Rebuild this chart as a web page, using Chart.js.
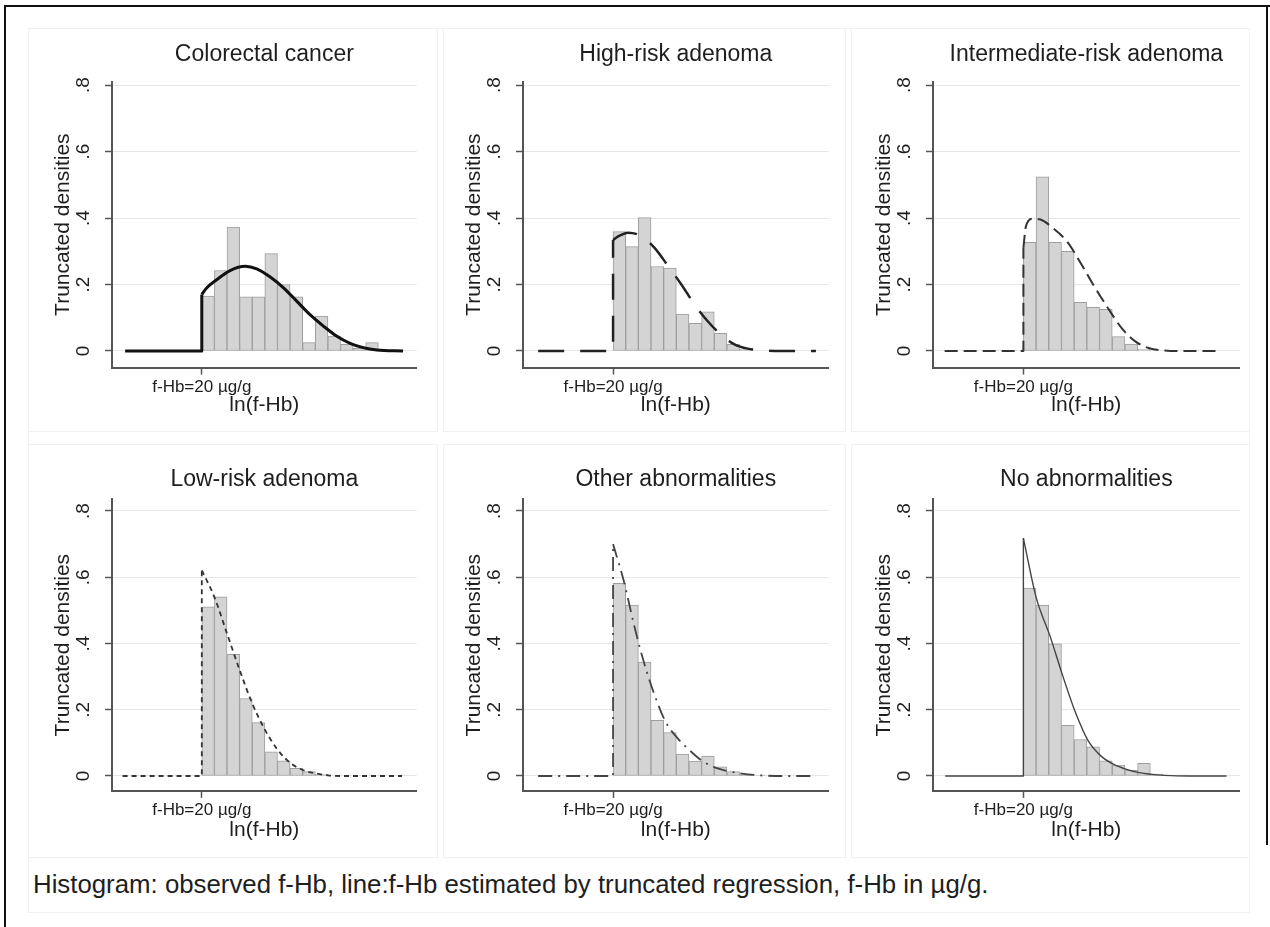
<!DOCTYPE html>
<html>
<head>
<meta charset="utf-8">
<script src="https://cdn.jsdelivr.net/npm/chart.js@4.4.1/dist/chart.umd.min.js"></script>
<style>
  html, body { margin: 0; padding: 0; background: #fff; }
  body { width: 1270px; height: 927px; position: relative; overflow: hidden;
         font-family: 'Liberation Sans', Arial, sans-serif; }
  .line { position: absolute; background: #111; }
  .frame { position: absolute; border: 1px solid #f1f1f1; box-sizing: border-box; }
  canvas { position: absolute; }
  #caption { position: absolute; left: 33px; top: 869px; font-size: 25.8px; line-height: 30px;
             color: #1e1e1e; white-space: nowrap; }
</style>
</head>
<body>
<div class="line" style="left:4px;top:5px;width:2px;height:922px"></div>
<div class="line" style="left:4px;top:5px;width:1266px;height:2px"></div>
<div class="line" style="left:1266px;top:5px;width:2px;height:840px"></div>
<div class="frame" style="left:28px;top:28px;width:1222px;height:885px"></div>
<div class="frame" style="left:28px;top:28px;width:410px;height:404px"></div>
<div class="frame" style="left:443px;top:28px;width:403px;height:404px"></div>
<div class="frame" style="left:851px;top:28px;width:399px;height:404px"></div>
<div class="frame" style="left:28px;top:444px;width:410px;height:414px"></div>
<div class="frame" style="left:443px;top:444px;width:403px;height:414px"></div>
<div class="frame" style="left:851px;top:444px;width:399px;height:414px"></div>
<div id="caption">Histogram: observed f-Hb, line:f-Hb estimated by truncated regression, f-Hb in µg/g.</div>

<script>
// bins of ln(f-Hb), width 0.25, starting at the truncation point ln(20)
const binCenters = [3.125, 3.375, 3.625, 3.875, 4.125, 4.375, 4.625, 4.875, 5.125, 5.375, 5.625, 5.875, 6.125, 6.375];
const thresholdX = 3.0;
const xTickLabel = 'f-Hb=20 µg/g';
const yTicks = [0, 0.2, 0.4, 0.6, 0.8];
const yTickLabels = ['0', '.2', '.4', '.6', '.8'];

const crcTitle = 'Colorectal cancer';
const crcBars = [0.165, 0.242, 0.373, 0.163, 0.163, 0.293, 0.2, 0.163, 0.025, 0.105, 0.045, 0.02, 0.008, 0.025];
const crcCurveX = [1.48, 3.0, 3.0, 3.10, 3.30, 3.56, 3.86, 4.09, 4.35, 4.62, 4.88, 5.14, 5.41, 5.67, 5.94, 6.20, 6.47, 6.99];
const crcCurveY = [0, 0, 0.17, 0.19, 0.215, 0.242, 0.255, 0.247, 0.223, 0.19, 0.15, 0.11, 0.075, 0.045, 0.023, 0.01, 0.003, 0];

const hraTitle = 'High-risk adenoma';
const hraBars = [0.359, 0.314, 0.401, 0.254, 0.249, 0.111, 0.083, 0.118, 0.053, 0.02, 0.005];
const hraCurveX = [1.52, 3.0, 3.0, 3.10, 3.30, 3.56, 3.82, 4.09, 4.35, 4.61, 4.88, 5.14, 5.40, 5.66, 5.93, 6.19, 7.01];
const hraCurveY = [0, 0, 0.334, 0.345, 0.356, 0.345, 0.31, 0.255, 0.2, 0.14, 0.088, 0.048, 0.02, 0.007, 0.002, 0, 0];

const iraTitle = 'Intermediate-risk adenoma';
const iraBars = [0.327, 0.524, 0.327, 0.30, 0.146, 0.131, 0.125, 0.043, 0.021, 0.005];
const iraCurveX = [1.45, 3.0, 3.0, 3.05, 3.18, 3.32, 3.59, 3.86, 4.13, 4.40, 4.67, 4.94, 5.21, 5.48, 5.75, 6.02, 6.90];
const iraCurveY = [0, 0, 0.31, 0.375, 0.398, 0.396, 0.369, 0.329, 0.264, 0.193, 0.128, 0.068, 0.028, 0.008, 0.002, 0, 0];

const lraTitle = 'Low-risk adenoma';
const lraBars = [0.511, 0.541, 0.367, 0.234, 0.161, 0.073, 0.046, 0.023, 0.013, 0.005];
const lraCurveX = [1.43, 3.0, 3.0, 3.25, 3.50, 3.75, 4.0, 4.25, 4.5, 4.75, 5.0, 5.25, 5.5, 5.77, 6.97];
const lraCurveY = [0, 0, 0.621, 0.54, 0.43, 0.32, 0.219, 0.14, 0.08, 0.04, 0.018, 0.008, 0.002, 0, 0];

const othTitle = 'Other abnormalities';
const othBars = [0.582, 0.516, 0.344, 0.168, 0.131, 0.066, 0.045, 0.060, 0.028, 0.013, 0.006, 0.003];
const othCurveX = [1.52, 3.0, 3.0, 3.21, 3.41, 3.58, 3.81, 4.04, 4.27, 4.51, 4.74, 4.97, 5.20, 5.43, 5.90, 6.49, 6.99];
const othCurveY = [0, 0, 0.70, 0.59, 0.459, 0.359, 0.249, 0.163, 0.115, 0.078, 0.048, 0.028, 0.017, 0.01, 0.002, 0, 0];

const nonTitle = 'No abnormalities';
const nonBars = [0.567, 0.516, 0.399, 0.153, 0.11, 0.088, 0.046, 0.033, 0.018, 0.038, 0.006, 0.002, 0.003];
const nonCurveX = [1.46, 3.0, 3.0, 3.25, 3.53, 3.78, 4.03, 4.28, 4.53, 4.78, 5.03, 5.28, 5.53, 5.78, 6.25, 7.0];
const nonCurveY = [0, 0, 0.718, 0.54, 0.42, 0.30, 0.19, 0.105, 0.06, 0.035, 0.02, 0.01, 0.005, 0.002, 0, 0];

const panels = [
  { title: crcTitle, bars: crcBars, cx: crcCurveX, cy: crcCurveY },
  { title: hraTitle, bars: hraBars, cx: hraCurveX, cy: hraCurveY },
  { title: iraTitle, bars: iraBars, cx: iraCurveX, cy: iraCurveY },
  { title: lraTitle, bars: lraBars, cx: lraCurveX, cy: lraCurveY },
  { title: othTitle, bars: othBars, cx: othCurveX, cy: othCurveY },
  { title: nonTitle, bars: nonBars, cx: nonCurveX, cy: nonCurveY },
];

const lineStyles = [
  { color: '#111', width: 3, dash: [] },
  { color: '#222', width: 2.5, dash: [26, 16] },
  { color: '#333', width: 2, dash: [13, 6] },
  { color: '#333', width: 1.8, dash: [5, 4] },
  { color: '#444', width: 1.8, dash: [14, 6, 2, 6] },
  { color: '#444', width: 1.4, dash: [] },
];

// layout of the 3x2 grid (page pixels)
const cols = [{ axis: 112, right: 416.7 }, { axis: 522.7, right: 828.3 }, { axis: 933.3, right: 1240 }];
const rows = [
  { titleY: 55, top: 81.7, bottom: 367.6, tickY: 387, xTitleY: 405, yMin: -0.05, yMax: 0.81 },
  { titleY: 480, top: 499.4, bottom: 790.9, tickY: 810, xTitleY: 830, yMin: -0.045, yMax: 0.835 },
];

const FONT = "'Liberation Sans', Arial, sans-serif";
const TXT = '#1e1e1e';
Chart.defaults.font.family = FONT;

const yTickPlugin = {
  id: 'yTickLabels',
  afterDraw(chart) {
    const s = chart.scales.y, ctx = chart.ctx;
    ctx.save();
    ctx.font = '19px ' + FONT;
    ctx.fillStyle = TXT;
    ctx.textAlign = 'center';
    ctx.textBaseline = 'middle';
    yTicks.forEach((v, i) => {
      ctx.save();
      ctx.translate(s.right - 28.5, s.getPixelForValue(v));
      ctx.rotate(-Math.PI / 2);
      ctx.fillText(yTickLabels[i], 0, 0);
      ctx.restore();
    });
    ctx.restore();
  }
};

panels.forEach((p, i) => {
  const col = cols[i % 3], row = rows[Math.floor(i / 3)];
  const st = lineStyles[i];
  const left = col.axis - 82, top = row.titleY - 26;
  const w = Math.round(col.right + 12 - left), h = Math.round(row.xTitleY + 18 - top);

  const canvas = document.createElement('canvas');
  canvas.width = w; canvas.height = h;
  canvas.style.left = left + 'px'; canvas.style.top = top + 'px';
  canvas.style.width = w + 'px'; canvas.style.height = h + 'px';
  document.body.appendChild(canvas);

  const yW = 49 + 12.6;
  const xH = row.xTitleY - row.bottom + 12.6;
  const pad = {
    left: col.axis - yW - left,
    right: left + w - col.right,
    top: row.titleY - top - 13.8,
    bottom: top + h - row.bottom - xH,
  };

  const pts = p.cx.map((x, k) => ({ x, y: p.cy[k] }));
  const jump = pts.slice(0, 3);
  const fit = pts.slice(2);

  const lineBase = {
    type: 'line', borderColor: st.color, borderWidth: st.width, borderDash: st.dash,
    pointRadius: 0, fill: false, order: 0, borderCapStyle: 'butt', borderJoinStyle: 'round',
  };

  new Chart(canvas, {
    type: 'bar',
    data: {
      datasets: [
        Object.assign({}, lineBase, { data: jump, tension: 0 }),
        Object.assign({}, lineBase, { data: fit, cubicInterpolationMode: 'monotone' }),
        {
          type: 'bar', order: 1,
          data: p.bars.map((v, k) => ({ x: binCenters[k], y: v })),
          backgroundColor: '#d4d4d4', borderColor: '#9e9e9e', borderWidth: 1,
          borderSkipped: false, barPercentage: 1, categoryPercentage: 1,
        },
      ],
    },
    options: {
      responsive: false,
      animation: false,
      events: [],
      layout: { padding: pad },
      plugins: {
        legend: { display: false },
        tooltip: { enabled: false },
        title: {
          display: true, text: p.title, fullSize: false, color: TXT,
          font: { size: 23, weight: 'normal' },
          padding: { top: 0, bottom: row.top - row.titleY - 13.8 },
        },
      },
      scales: {
        x: {
          type: 'linear', min: 1.22, max: 7.26, offset: false,
          afterBuildTicks: (s) => { s.ticks = [{ value: thresholdX }]; },
          afterFit: (s) => { s.height = xH; },
          ticks: {
            callback: () => xTickLabel, autoSkip: false, maxRotation: 0, color: TXT,
            font: { size: 17 }, padding: row.tickY - row.bottom - 7 - 10.2,
          },
          grid: { offset: false, drawOnChartArea: false, drawTicks: true, tickLength: 7, tickColor: '#555', tickWidth: 1.5 },
          border: { display: true, color: '#555', width: 2 },
          title: { display: true, text: 'ln(f-Hb)', color: TXT, font: { size: 21 }, padding: 0 },
        },
        y: {
          type: 'linear', min: row.yMin, max: row.yMax,
          afterBuildTicks: (s) => { s.ticks = yTicks.map((v) => ({ value: v })); },
          afterFit: (s) => { s.width = yW; },
          ticks: { display: false },
          grid: { color: '#e6e6e6', lineWidth: 1, drawTicks: true, tickLength: 7, tickColor: '#555', tickWidth: 1.5 },
          border: { display: true, color: '#555', width: 2 },
          title: { display: true, text: 'Truncated densities', color: TXT, font: { size: 21 }, padding: 0 },
        },
      },
    },
    plugins: [yTickPlugin],
  });
});
</script>
</body>
</html>
